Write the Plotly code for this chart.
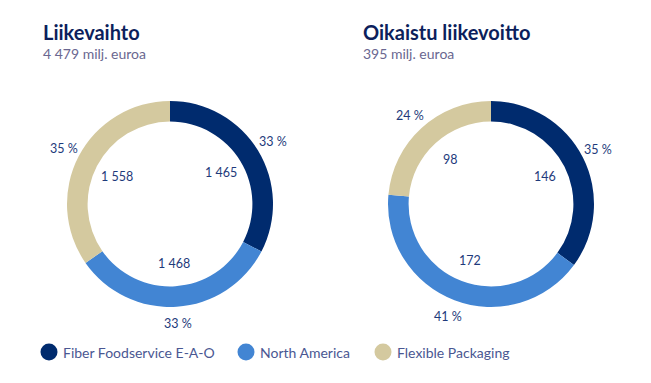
import math
import plotly.graph_objects as go

segments = ["Fiber Foodservice E-A-O", "North America", "Flexible Packaging"]
colors = ["#002B6E", "#4285D3", "#D4C99F"]

revenue_values = [1465, 1468, 1558]
revenue_labels = ["1 465", "1 468", "1 558"]
revenue_pct = ["33 %", "33 %", "35 %"]

profit_values = [146, 172, 98]
profit_labels = ["146", "172", "98"]
profit_pct = ["35 %", "41 %", "24 %"]

titles = ["Liikevaihto", "Oikaistu liikevoitto"]
subtitles = ["4 479 milj. euroa", "395 milj. euroa"]

W, H = 651, 383
OFF = 8  # page body margin offset
FONT = "Lato, 'Noto Sans', sans-serif"
R = 103
centers = [(170, 204), (491, 204)]
title_x = [41, 361]

fig = go.Figure()
annotations = []
shapes = []

def px(x):
    return (x - OFF) / W

def py(y):
    return 1 - (y - OFF) / H

for i, (vals, labs, pcts) in enumerate([(revenue_values, revenue_labels, revenue_pct),
                                        (profit_values, profit_labels, profit_pct)]):
    cx, cy = centers[i]
    fig.add_trace(go.Pie(
        values=vals, labels=segments, sort=False, direction="clockwise", rotation=0,
        hole=0.8, marker=dict(colors=colors, line=dict(width=0)),
        textinfo="none", hoverinfo="label+value", showlegend=False,
        domain=dict(x=[px(cx - R), px(cx + R)], y=[py(cy + R), py(cy - R)]),
    ))
    total = sum(vals)
    cum = 0
    for v, lab, pct in zip(vals, labs, pcts):
        mid = (cum + v / 2) / total * 2 * math.pi
        cum += v
        dx, dy = math.sin(mid), -math.cos(mid)
        for r, text in [(60, lab), (120, pct)]:
            annotations.append(dict(
                x=px(cx + dx * r), y=py(cy + dy * r), xref="paper", yref="paper",
                text=text, showarrow=False, xanchor="center", yanchor="middle",
                font=dict(family=FONT, size=12.5, color="#1E3A7B"),
            ))
    annotations.append(dict(
        x=px(title_x[i]), y=py(32), xref="paper", yref="paper", text="<b>%s</b>" % titles[i],
        showarrow=False, xanchor="left", yanchor="middle",
        font=dict(family=FONT, size=20, color="#0C1F5C"),
    ))
    annotations.append(dict(
        x=px(title_x[i]), y=py(53), xref="paper", yref="paper", text=subtitles[i],
        showarrow=False, xanchor="left", yanchor="middle",
        font=dict(family=FONT, size=14, color="#6A6790"),
    ))

legend_x = [49, 246, 383]
for name, col, lx in zip(segments, colors, legend_x):
    shapes.append(dict(type="circle", xref="paper", yref="paper",
                       x0=px(lx - 8.5), x1=px(lx + 8.5), y0=py(352 + 8.5), y1=py(352 - 8.5),
                       fillcolor=col, line=dict(width=0)))
    annotations.append(dict(
        x=px(lx + 12), y=py(352), xref="paper", yref="paper", text=name,
        showarrow=False, xanchor="left", yanchor="middle",
        font=dict(family=FONT, size=14, color="#4A5792"),
    ))

fig.update_layout(
    width=W, height=H, margin=dict(l=0, r=0, t=0, b=0),
    paper_bgcolor="white", plot_bgcolor="white",
    annotations=annotations, shapes=shapes, showlegend=False,
)
fig.write_html("out.html")
